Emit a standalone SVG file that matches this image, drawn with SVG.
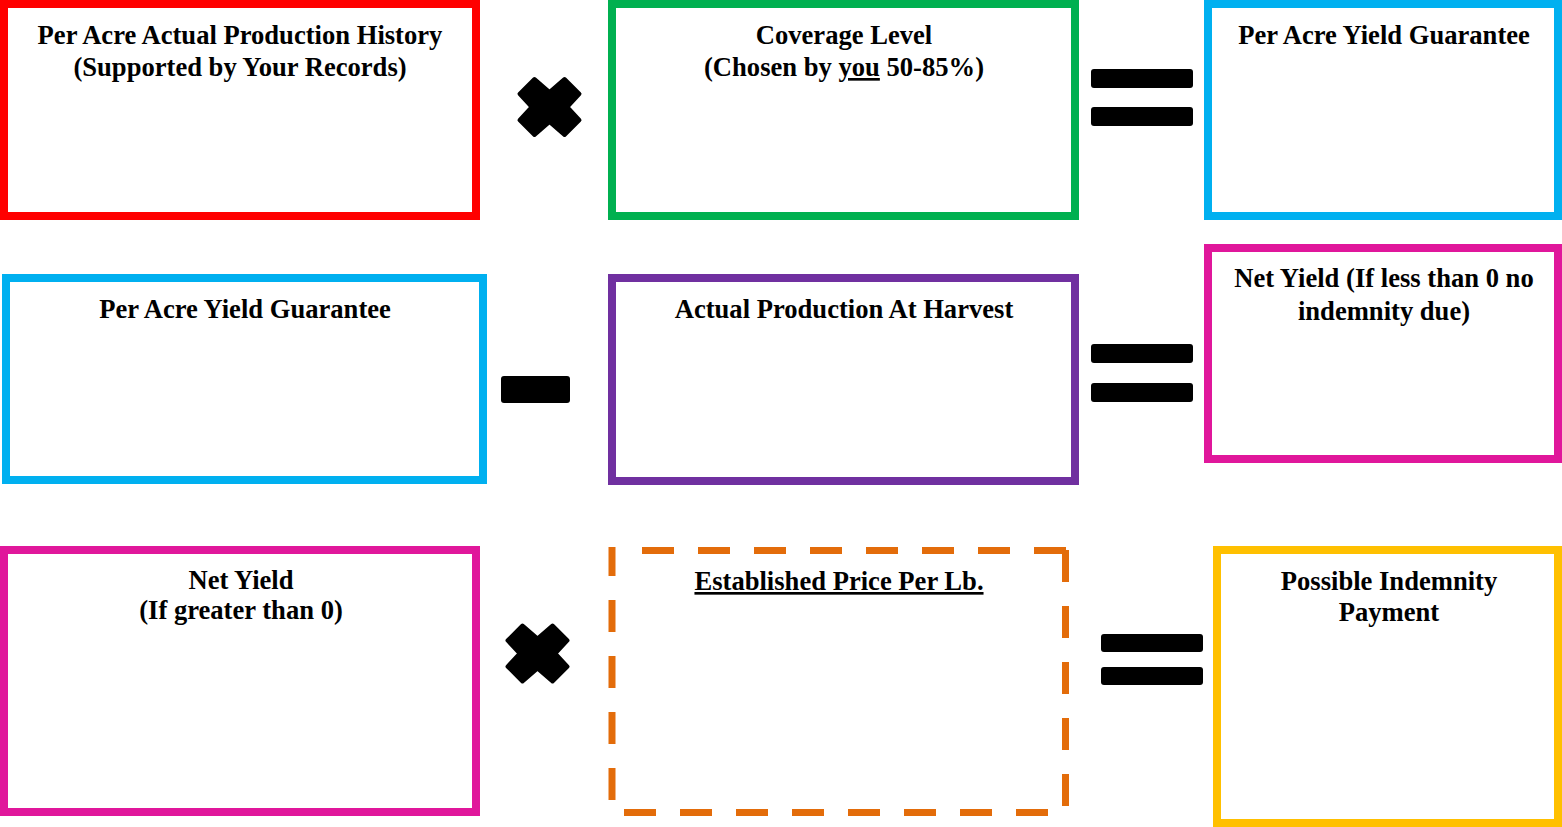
<svg xmlns="http://www.w3.org/2000/svg" width="1562" height="827" viewBox="0 0 1562 827">
<style>
  .box { fill: #ffffff; stroke-width: 8; }
  .t { font-family: "Liberation Serif", "Times New Roman", serif; font-weight: bold; font-size: 26.6px; fill: #000000; text-anchor: middle; }
  .u { text-decoration: underline; }
  .op { fill: #000000; }
  .x { fill: #000000; stroke: #000000; stroke-width: 4; stroke-linejoin: round; }
  .dash { stroke: #E36C0A; stroke-width: 7; stroke-dasharray: 32 24; fill: none; }
</style>
<defs>
  <path id="times" d="M0,-15 L15,-28 L30,-13 L18,0 L30,13 L15,28 L0,15 L-15,28 L-30,13 L-18,0 L-30,-13 L-15,-28 Z"/>
</defs>
<rect width="1562" height="827" fill="#ffffff"/>

<g id="box-aph">
  <rect class="box" x="4" y="4" width="472" height="212" stroke="#FF0000"/>
  <text class="t" x="240" y="44">Per Acre Actual Production History</text>
  <text class="t" x="240" y="76">(Supported by Your Records)</text>
</g>
<g id="box-coverage">
  <rect class="box" x="612" y="4" width="463" height="212" stroke="#00B050"/>
  <text class="t" x="844" y="44">Coverage Level</text>
  <text class="t" x="844" y="76">(Chosen by <tspan class="u">you</tspan> 50-85%)</text>
</g>
<g id="box-guarantee-1">
  <rect class="box" x="1208" y="4" width="350" height="212" stroke="#00B0F0"/>
  <text class="t" x="1384" y="44">Per Acre Yield Guarantee</text>
</g>

<g id="box-guarantee-2">
  <rect class="box" x="6" y="278" width="477" height="202" stroke="#00B0F0"/>
  <text class="t" x="245" y="318">Per Acre Yield Guarantee</text>
</g>
<g id="box-actual">
  <rect class="box" x="612" y="278" width="463" height="203" stroke="#7030A0"/>
  <text class="t" x="844" y="318">Actual Production At Harvest</text>
</g>
<g id="box-netyield-1">
  <rect class="box" x="1208" y="248" width="350" height="211" stroke="#E0179B"/>
  <text class="t" x="1384" y="287">Net Yield (If less than 0 no</text>
  <text class="t" x="1384" y="320">indemnity due)</text>
</g>

<g id="box-netyield-2">
  <rect class="box" x="4" y="550" width="472" height="262" stroke="#E0179B"/>
  <text class="t" x="241" y="589">Net Yield</text>
  <text class="t" x="241" y="619">(If greater than 0)</text>
</g>
<g id="box-price">
  <rect x="612" y="550.5" width="453.5" height="262" fill="#ffffff"/>
  <line class="dash" x1="642" y1="550.5" x2="1069" y2="550.5"/>
  <line class="dash" x1="1065.5" y1="550" x2="1065.5" y2="812"/>
  <line class="dash" x1="624" y1="812.5" x2="1062" y2="812.5"/>
  <line class="dash" x1="612" y1="547" x2="612" y2="812" stroke-dashoffset="3"/>
  <text class="t u" x="839" y="590">Established Price Per Lb.</text>
</g>
<g id="box-indemnity">
  <rect class="box" x="1217" y="550" width="341" height="273" stroke="#FFC000"/>
  <text class="t" x="1389" y="590">Possible Indemnity</text>
  <text class="t" x="1389" y="621">Payment</text>
</g>

<g id="connectors">
  <use href="#times" class="x" transform="translate(549.5,107)"/>
  <g class="op">
    <rect x="1091" y="69" width="102" height="19" rx="3"/>
    <rect x="1091" y="107" width="102" height="19" rx="3"/>
  </g>
  <rect class="op" x="501" y="376" width="69" height="27" rx="3"/>
  <g class="op">
    <rect x="1091" y="344" width="102" height="19" rx="3"/>
    <rect x="1091" y="383" width="102" height="19" rx="3"/>
  </g>
  <use href="#times" class="x" transform="translate(537.5,653.5)"/>
  <g class="op">
    <rect x="1101" y="634" width="102" height="18" rx="3"/>
    <rect x="1101" y="667" width="102" height="18" rx="3"/>
  </g>
</g>
</svg>
